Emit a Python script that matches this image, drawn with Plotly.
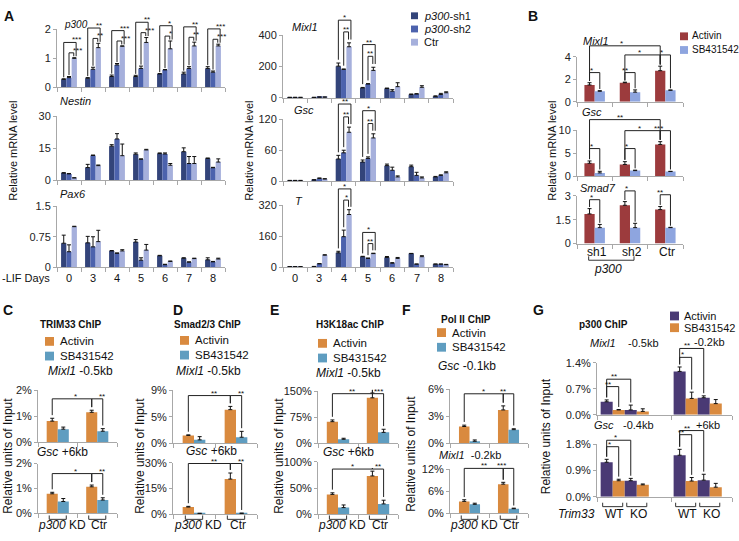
import plotly.graph_objects as go

W, H = 739, 541
FONT = "Liberation Sans, Arial, sans-serif"
AXC = "#a8a8a8"

# ===================== DATA =====================
# Panel A  (-LIF days)
days = ["0", "3", "4", "5", "6", "7", "8"]
p300_sh1 = [0.27, 0.31, 0.37, 0.37, 0.46, 0.46, 0.65]
p300_sh1_err = [0.02, 0.02, 0.05, 0.04, 0.01, 0.06, 0.06]
p300_sh2 = [0.33, 0.62, 0.77, 0.65, 0.60, 0.65, 0.52]
p300_sh2_err = [0.04, 0.07, 0.05, 0.08, 0.01, 0.06, 0.04]
p300_ctr = [1.00, 1.37, 1.42, 1.55, 1.33, 1.43, 1.43]
p300_ctr_err = [0.02, 0.15, 0.01, 0.17, 0.27, 0.13, 0.06]
p300_sig = [("***", "***"), ("**", "**"), ("***", "***"), ("**", "***"),
            ("*", "*"), ("**", "**"), ("***", "***")]

nes_sh1 = [3.3, 5.9, 16.0, 12.2, 12.5, 13.4, 10.2]
nes_sh1_err = [0.2, 1.5, 0.7, 0.6, 0.3, 1.8, 0.2]
nes_sh2 = [2.9, 11.6, 19.4, 9.8, 12.3, 7.8, 5.8]
nes_sh2_err = [0.2, 0.2, 2.5, 0.2, 0.5, 3.3, 0.2]
nes_ctr = [1.0, 6.8, 11.5, 14.2, 7.0, 7.8, 8.5]
nes_ctr_err = [0.1, 0.3, 5.5, 0.3, 0.8, 3.3, 1.5]

pax_sh1 = [0.59, 0.60, 0.40, 0.62, 0.28, 0.22, 0.18]
pax_sh1_err = [0.20, 0.16, 0.01, 0.06, 0.01, 0.01, 0.05]
pax_sh2 = [0.38, 0.50, 0.34, 0.17, 0.06, 0.12, 0.13]
pax_sh2_err = [0.17, 0.25, 0.01, 0.06, 0.01, 0.01, 0.01]
pax_ctr = [1.00, 0.63, 0.40, 0.42, 0.14, 0.21, 0.20]
pax_ctr_err = [0.01, 0.28, 0.03, 0.14, 0.01, 0.01, 0.02]

mix_sh1 = [3, 3, 203, 64, 60, 22, 10]
mix_sh1_err = [1, 1, 20, 3, 3, 3, 3]
mix_sh2 = [3, 5, 182, 89, 43, 25, 22]
mix_sh2_err = [1, 1, 3, 2, 10, 2, 7]
mix_ctr = [3, 5, 327, 176, 72, 68, 33]
mix_ctr_err = [1, 1, 25, 20, 25, 10, 6]
mix_sig = {2: ("*", "**"), 3: ("**", "**")}

gsc_sh1 = [1, 2, 43, 37, 30, 28, 8]
gsc_sh1_err = [0.3, 0.5, 7, 4, 3, 3, 1]
gsc_sh2 = [1, 5, 55, 44, 21, 11, 11]
gsc_sh2_err = [0.3, 1, 5, 3, 6, 6, 1]
gsc_ctr = [1, 4, 95, 84, 8, 6, 16]
gsc_ctr_err = [0.3, 0.5, 10, 8, 2, 2, 2]
gsc_sig = {2: ("**", "**"), 3: ("*", "**")}

t_sh1 = [2, 3, 74, 54, 50, 70, 15]
t_sh1_err = [0.5, 0.5, 8, 2, 5, 1, 1]
t_sh2 = [2, 17, 158, 45, 20, 15, 15]
t_sh2_err = [0.5, 1, 34, 2, 3, 1, 1]
t_ctr = [2, 62, 273, 70, 45, 54, 12]
t_ctr_err = [0.5, 2, 25, 2, 5, 5, 2]
t_sig = {2: ("*", "*"), 3: ("*", "**")}

# Panel B
b_groups = ["sh1", "sh2", "Ctr"]
b_mix_act = [1.50, 1.70, 2.77]
b_mix_act_err = [0.20, 0.05, 0.40]
b_mix_sb = [0.94, 0.86, 1.03]
b_mix_sb_err = [0.05, 0.20, 0.02]
b_gsc_act = [2.8, 2.55, 6.9]
b_gsc_act_err = [0.5, 0.6, 0.6]
b_gsc_sb = [0.7, 1.2, 1.0]
b_gsc_sb_err = [0.35, 0.1, 0.05]
b_smad_act = [1.86, 2.40, 2.13]
b_smad_act_err = [0.33, 0.23, 0.19]
b_smad_sb = [1.0, 1.0, 1.0]
b_smad_sb_err = [0.20, 0.27, 0.02]

# Panels C-F  (groups: p300 KD, Ctr)
cf_groups = ["<i>p300</i> KD", "Ctr"]
c_mix_act = [0.81, 1.15]; c_mix_act_err = [0.11, 0.08]
c_mix_sb = [0.50, 0.42]; c_mix_sb_err = [0.08, 0.10]
c_gsc_act = [0.79, 1.07]; c_gsc_act_err = [0.06, 0.07]
c_gsc_sb = [0.48, 0.54]; c_gsc_sb_err = [0.12, 0.09]

d_mix_act = [1.3, 5.7]; d_mix_act_err = [0.1, 0.55]
d_mix_sb = [0.55, 1.0]; d_mix_sb_err = [0.55, 1.0]
d_gsc_act = [4.3, 20.5]; d_gsc_act_err = [0.4, 3.5]
d_gsc_sb = [0.5, 0.6]; d_gsc_sb_err = [0.2, 0.2]

e_mix_act = [62, 131]; e_mix_act_err = [5, 14]
e_mix_sb = [11, 31]; e_mix_sb_err = [3, 9]
e_gsc_act = [38, 73]; e_gsc_act_err = [3, 9]
e_gsc_sb = [13, 20]; e_gsc_sb_err = [5, 7]

f_gsc_act = [1.85, 3.7]; f_gsc_act_err = [0.15, 0.45]
f_gsc_sb = [0.2, 1.5]; f_gsc_sb_err = [0.15, 0.1]
f_mix_act = [3.3, 8.0]; f_mix_act_err = [0.45, 0.5]
f_mix_sb = [2.5, 1.3]; f_mix_sb_err = [0.3, 0.15]

# Panel G (loci: left, right)
g_mix_wt_act = [0.35, 1.17]; g_mix_wt_act_err = [0.05, 0.12]
g_mix_wt_sb = [0.13, 0.44]; g_mix_wt_sb_err = [0.01, 0.17]
g_mix_ko_act = [0.13, 0.46]; g_mix_ko_act_err = [0.13, 0.05]
g_mix_ko_sb = [0.09, 0.30]; g_mix_ko_sb_err = [0.07, 0.11]
g_gsc_wt_act = [1.18, 1.42]; g_gsc_wt_act_err = [0.10, 0.20]
g_gsc_wt_sb = [0.55, 0.54]; g_gsc_wt_sb_err = [0.05, 0.12]
g_gsc_ko_act = [0.55, 0.57]; g_gsc_ko_act_err = [0.08, 0.20]
g_gsc_ko_sb = [0.41, 0.33]; g_gsc_ko_sb_err = [0.03, 0.13]

# ===================== COLOURS =====================
A_COL = ["#33447a", "#4c62ad", "#a6b0dc"]
B_COL = ["#9c3b3d", "#8ea5df"]
CF_COL = ["#d98a3f", "#5f9dc0"]
G_COL = ["#4a3a74", "#d98a3f"]

# ===================== HELPERS =====================
fig = go.Figure()
AX = {}
LAY = {}
shapes = []
annos = []
cnt = [0]


def add_axes(key, x0, x1, yt, yz, xr, yr, ytv, ytt, xtv):
    cnt[0] += 1
    n = cnt[0]
    sfx = "" if n == 1 else str(n)
    xa, ya = "x" + sfx, "y" + sfx
    AX[key] = dict(x0=x0, x1=x1, yt=yt, yz=yz, xr=xr, yr=yr, xa=xa, ya=ya)
    LAY["xaxis" + sfx] = dict(domain=[x0 / W, x1 / W], range=list(xr), anchor=ya,
                             showgrid=False, zeroline=False, showline=True,
                             linecolor=AXC, linewidth=1, ticks="outside", ticklen=4,
                             tickcolor=AXC, tickvals=xtv, showticklabels=False,
                             fixedrange=True)
    LAY["yaxis" + sfx] = dict(domain=[1 - yz / H, 1 - yt / H], range=list(yr), anchor=xa,
                             showgrid=False, zeroline=False, showline=True,
                             linecolor=AXC, linewidth=1, ticks="outside", ticklen=3,
                             tickcolor=AXC, tickvals=ytv, ticktext=ytt,
                             tickfont=dict(size=11, color="#222", family=FONT),
                             fixedrange=True)


def PX(key, v):
    a = AX[key]
    return (a["x0"] + (v - a["xr"][0]) / (a["xr"][1] - a["xr"][0]) * (a["x1"] - a["x0"])) / W


def PY(key, v):
    a = AX[key]
    return 1 - (a["yz"] - (v - a["yr"][0]) / (a["yr"][1] - a["yr"][0]) * (a["yz"] - a["yt"])) / H


def center(pos, i, n, w):
    return pos - n * w / 2 + (i + 0.5) * w


def add_bars(key, pos, vals, errs, color, i, n, w, capw=2):
    a = AX[key]
    fig.add_trace(go.Bar(
        x=pos, y=vals, width=w, offset=-n * w / 2 + i * w,
        marker=dict(color=color, line=dict(width=0)),
        error_y=dict(type="data", array=errs, arrayminus=[0] * len(errs), symmetric=False,
                     color="#111", thickness=1, width=capw),
        xaxis=a["xa"], yaxis=a["ya"], showlegend=False, hoverinfo="skip"))


def bracket(key, xa, xb, h, la, lb, label, fs=8):
    pxa, pxb, ph = PX(key, xa), PX(key, xb), PY(key, h)
    path = f"M {pxa},{PY(key, la)} L {pxa},{ph} L {pxb},{ph} L {pxb},{PY(key, lb)}"
    shapes.append(dict(type="path", path=path, xref="paper", yref="paper",
                       line=dict(color="#222", width=1)))
    annos.append(dict(x=(pxa + pxb) / 2, y=ph, xref="paper", yref="paper", text=label,
                      showarrow=False, font=dict(size=fs, color="#111", family=FONT),
                      yanchor="bottom", yshift=-4))


def txt(x, y, s, size=11, xanchor="center", angle=0, color="#111"):
    annos.append(dict(x=x / W, y=1 - y / H, xref="paper", yref="paper", text=s,
                      showarrow=False, font=dict(size=size, color=color, family=FONT),
                      xanchor=xanchor, yanchor="middle", textangle=angle))


def square(x, y, s, color):
    shapes.append(dict(type="rect", x0=x / W, x1=(x + s) / W, y0=1 - (y + s / 2) / H,
                       y1=1 - (y - s / 2) / H, xref="paper", yref="paper",
                       fillcolor=color, line=dict(width=0)))


def under_bracket(x0, x1, y):
    path = f"M {x0 / W},{1 - (y - 4) / H} L {x0 / W},{1 - y / H} L {x1 / W},{1 - y / H} L {x1 / W},{1 - (y - 4) / H}"
    shapes.append(dict(type="path", path=path, xref="paper", yref="paper",
                       line=dict(color="#333", width=1)))


# ===================== PANEL A =====================
nA = len(days)
posA = list(range(nA))
bndA = [k - 0.5 for k in range(nA + 1)]
wA = 0.22
A_specs = [
    ("a1", 57, 225, 24, 83, 2, [0, 1, 2], ["0", "1", "2"],
     [(p300_sh1, p300_sh1_err), (p300_sh2, p300_sh2_err), (p300_ctr, p300_ctr_err)]),
    ("a2", 57, 225, 113, 178, 30, [0, 15, 30], ["0", "15", "30"],
     [(nes_sh1, nes_sh1_err), (nes_sh2, nes_sh2_err), (nes_ctr, nes_ctr_err)]),
    ("a3", 57, 225, 205, 267, 1.5, [0, 0.75, 1.5], ["0", "0.75", "1.5"],
     [(pax_sh1, pax_sh1_err), (pax_sh2, pax_sh2_err), (pax_ctr, pax_ctr_err)]),
    ("a4", 283, 453, 30, 94, 400, [0, 200, 400], ["0", "200", "400"],
     [(mix_sh1, mix_sh1_err), (mix_sh2, mix_sh2_err), (mix_ctr, mix_ctr_err)]),
    ("a5", 283, 453, 116, 179, 120, [0, 60, 120], ["0", "60", "120"],
     [(gsc_sh1, gsc_sh1_err), (gsc_sh2, gsc_sh2_err), (gsc_ctr, gsc_ctr_err)]),
    ("a6", 283, 453, 204, 267, 320, [0, 160, 320], ["0", "160", "320"],
     [(t_sh1, t_sh1_err), (t_sh2, t_sh2_err), (t_ctr, t_ctr_err)]),
]
for key, x0, x1, yt, yz, top, tv, tt, ser in A_specs:
    add_axes(key, x0, x1, yt, yz, (-0.5, nA - 0.5), (0, top), tv, tt, bndA)
    for i, (v, e) in enumerate(ser):
        add_bars(key, posA, v, e, A_COL[i], i, 3, wA)


def a_brackets(key, ser, sigs, pad, step):
    (s1, e1), (s2, e2), (c, ec) = ser
    for g, (lo, li) in sigs.items():
        ctop = c[g] + ec[g]
        hi = max(ctop, s2[g] + e2[g]) + pad
        ho = hi + step
        lp = pad * 0.3
        bracket(key, center(g, 1, 3, wA), center(g, 2, 3, wA) - 0.1 * wA, hi,
                s2[g] + e2[g] + lp, ctop + lp, li)
        bracket(key, center(g, 0, 3, wA), center(g, 2, 3, wA) + 0.35 * wA, ho,
                s1[g] + e1[g] + lp, ctop + lp, lo)


a_brackets("a1", A_specs[0][8], dict(enumerate(p300_sig)), 0.17, 0.36)
a_brackets("a4", A_specs[3][8], mix_sig, 70, 75)
a_brackets("a5", A_specs[4][8], gsc_sig, 20, 25)
a_brackets("a6", A_specs[5][8], t_sig, 50, 58)

for k in posA:
    txt(PX("a3", k) * W, 278, days[k], 11)
    txt(PX("a6", k) * W, 278, days[k], 11)
txt(52, 278, "-LIF Days", 11, xanchor="right")
txt(62, 19, "<i>p300</i>", 10, xanchor="left")
txt(58, 97, "<i>Nestin</i>", 11, xanchor="left")
txt(58, 192, "<i>Pax6</i>", 11, xanchor="left")
txt(290, 21, "<i>Mixl1</i>", 11, xanchor="left")
txt(292, 106, "<i>Gsc</i>", 11, xanchor="left")
txt(293, 199, "<i>T</i>", 11, xanchor="left")
txt(13, 148, "Relative mRNA level", 11, angle=-90)
txt(249, 148, "Relative mRNA level", 11, angle=-90)
a_leg = ["<i>p300</i>-sh1", "<i>p300</i>-sh2", "Ctr"]
for i, name in enumerate(a_leg):
    square(411, 10 + 13.5 * i, 7, A_COL[i])
    txt(422, 10 + 13.5 * i, name, 11, xanchor="left")

# ===================== PANEL B =====================
nB = len(b_groups)
posB = list(range(nB))
bndB = [k - 0.5 for k in range(nB + 1)]
wB = 0.29
B_specs = [
    ("b1", 52, 98, 4, [0, 2, 4], ["0", "2", "4"],
     [(b_mix_act, b_mix_act_err), (b_mix_sb, b_mix_sb_err)]),
    ("b2", 127, 174, 10, [0, 5, 10], ["0", "5", "10"],
     [(b_gsc_act, b_gsc_act_err), (b_gsc_sb, b_gsc_sb_err)]),
    ("b3", 194, 243, 3, [0, 1.5, 3], ["0", "1.5", "3"],
     [(b_smad_act, b_smad_act_err), (b_smad_sb, b_smad_sb_err)]),
]
for key, yt, yz, top, tv, tt, ser in B_specs:
    add_axes(key, 577, 683, yt, yz, (-0.5, nB - 0.5), (0, top), tv, tt, bndB)
    for i, (v, e) in enumerate(ser):
        add_bars(key, posB, v, e, B_COL[i], i, 2, wB)


def top_of(ser, g, i):
    v, e = ser[i]
    return v[g] + e[g]


def b_br(key, ser, ga, ia, gb, ib, h, label, lp):
    bracket(key, center(ga, ia, 2, wB), center(gb, ib, 2, wB), h,
            top_of(ser, ga, ia) + lp, top_of(ser, gb, ib) + lp, label)


s = B_specs[0][6]
b_br("b1", s, 0, 0, 0, 1, 2.6, "*", 0.15)
b_br("b1", s, 1, 0, 1, 1, 2.6, "**", 0.15)
b_br("b1", s, 2, 0, 2, 1, 4.17, "*", 0.15)
b_br("b1", s, 1, 0, 2, 0, 4.17, "*", 0.15)
b_br("b1", s, 0, 0, 2, 0, 4.98, "*", 0.15)
s = B_specs[1][6]
b_br("b2", s, 0, 0, 0, 1, 6.0, "*", 0.4)
b_br("b2", s, 1, 0, 1, 1, 6.0, "*", 0.4)
b_br("b2", s, 2, 0, 2, 1, 9.9, "***", 0.4)
b_br("b2", s, 1, 0, 2, 0, 9.9, "*", 0.4)
b_br("b2", s, 0, 0, 2, 0, 12.3, "**", 0.4)
s = B_specs[2][6]
b_br("b3", s, 0, 0, 0, 1, 2.75, "*", 0.1)
b_br("b3", s, 1, 0, 1, 1, 3.3, "*", 0.1)
b_br("b3", s, 2, 0, 2, 1, 3.06, "**", 0.1)

for k in posB:
    txt(PX("b3", k) * W + 2, 252, b_groups[k], 12)
under_bracket(PX("b3", 0) * W - 6, PX("b3", 1) * W + 4, 260)
txt(608, 269, "<i>p300</i>", 12)
txt(581, 36, "<i>Mixl1</i>", 11, xanchor="left")
txt(580, 108, "<i>Gsc</i>", 11, xanchor="left")
txt(578, 186, "<i>Smad7</i>", 11, xanchor="left")
txt(552, 148, "Relative mRNA level", 11, angle=-90)
for i, name in enumerate(["Activin", "SB431542"]):
    square(680, 31 + 14 * i, 8, B_COL[i])
    txt(690, 30 + 14 * i, name, 10, xanchor="left")

# ===================== PANELS C-F =====================
posCF = [0, 1]
bndCF = [-0.5, 0.5, 1.5]
CF_specs = [
    ("c", 38, 117, 0.28,
     (393, 446, 2, [0, 1, 2], ["0%", "1%", "2%"],
      [(c_mix_act, c_mix_act_err), (c_mix_sb, c_mix_sb_err)], 1.67, ("*", "**")),
     (468, 519, 2, [0, 1, 2], ["0%", "1%", "2%"],
      [(c_gsc_act, c_gsc_act_err), (c_gsc_sb, c_gsc_sb_err)], 1.6, ("*", "**"))),
    ("d", 173, 257, 0.27,
     (393, 447, 9, [0, 4.5, 9], ["0%", "5%", "9%"],
      [(d_mix_act, d_mix_act_err), (d_mix_sb, d_mix_sb_err)], 8.1, ("**", "**")),
     (467, 520, 30, [0, 15, 30], ["0%", "15%", "30%"],
      [(d_gsc_act, d_gsc_act_err), (d_gsc_sb, d_gsc_sb_err)], 29.5, ("**", "**"))),
    ("e", 318, 398, 0.28,
     (394, 447, 150, [0, 75, 150], ["0%", "75%", "150%"],
      [(e_mix_act, e_mix_act_err), (e_mix_sb, e_mix_sb_err)], 143, ("**", "***")),
     (466, 520, 100, [0, 50, 100], ["0%", "50%", "100%"],
      [(e_gsc_act, e_gsc_act_err), (e_gsc_sb, e_gsc_sb_err)], 86, ("*", "**"))),
    ("f", 450, 528, 0.27,
     (392, 447, 6, [0, 3, 6], ["0%", "3%", "6%"],
      [(f_gsc_act, f_gsc_act_err), (f_gsc_sb, f_gsc_sb_err)], 5.5, ("*", "**")),
     (474, 519, 12, [0, 6, 12], ["0%", "6%", "12%"],
      [(f_mix_act, f_mix_act_err), (f_mix_sb, f_mix_sb_err)], 12.3, ("**", "***"))),
]
for p, x0, x1, w, top_spec, bot_spec in CF_specs:
    for j, (yt, yz, top, tv, tt, ser, lvl, labs) in enumerate([top_spec, bot_spec]):
        key = p + str(j + 1)
        add_axes(key, x0, x1, yt, yz, (-0.5, 1.5), (0, top), tv, tt, bndCF)
        for i, (v, e) in enumerate(ser):
            add_bars(key, posCF, v, e, CF_COL[i], i, 2, w)
        lp = top * 0.06
        bracket(key, center(0, 0, 2, w), center(1, 0, 2, w), lvl,
                top_of(ser, 0, 0) + lp, top_of(ser, 1, 0) + lp, labs[0])
        bracket(key, center(1, 0, 2, w), center(1, 1, 2, w), lvl,
                top_of(ser, 1, 0) + lp, top_of(ser, 1, 1) + lp, labs[1])
    for k in posCF:
        cx0 = PX(p + "2", center(k, 0, 2, w)) * W
        cx1 = PX(p + "2", center(k, 1, 2, w)) * W
        under_bracket(cx0 - 3, cx1 + 3, 525)
        txt((cx0 + cx1) / 2 + (4 if k == 0 else 2), 531, cf_groups[k], 12)

# C
txt(70, 326, "<b>TRIM33 ChIP</b>", 10)
txt(62, 456, "<i>Gsc</i> +6kb", 12)
txt(80, 373, "<i>Mixl1</i> -0.5kb", 12)
txt(8, 460, "Relative units of Input", 12, angle=-90)
# D
txt(207, 326, "<b>Smad2/3 ChIP</b>", 10)
txt(208, 373, "<i>Mixl1</i> -0.5kb", 12)
txt(212, 455, "<i>Gsc</i> +6kb", 12)
txt(140, 460, "Relative units of Input", 12, angle=-90)
# E
txt(350, 326, "<b>H3K18ac ChIP</b>", 10)
txt(348, 375, "<i>Mixl1</i> -0.5kb", 12)
txt(348, 456, "<i>Gsc</i> +6kb", 12)
txt(279, 460, "Relative units of Input", 12, angle=-90)
# F
txt(466, 321, "<b>Pol II ChIP</b>", 10)
txt(467, 368, "<i>Gsc</i> -0.1kb", 12)
txt(470, 459, "<i>Mixl1</i>  -0.2kb", 11)
txt(411, 458, "Relative units of Input", 12, angle=-90)
for lx, ly in [(45, 343), (180, 342), (318, 345), (437, 334)]:
    for i, name in enumerate(["Activin", "SB431542"]):
        square(lx, ly + 15 * i, 9, CF_COL[i])
        txt(lx + 13, ly + 15 * i, name, 11.5, xanchor="left")

# ===================== PANEL G =====================
posG = [0, 1]
wG = 0.165
xrG = (-0.38, 1.47)
G_specs = [
    ("g1", 365, 418, 1.4, [0, 0.7, 1.4], ["0.0%", "0.7%", "1.4%"],
     [(g_mix_wt_act, g_mix_wt_act_err), (g_mix_wt_sb, g_mix_wt_sb_err),
      (g_mix_ko_act, g_mix_ko_act_err), (g_mix_ko_sb, g_mix_ko_sb_err)],
     [(0.76, "**", 0.96, "**"), (1.55, "*", 1.79, "**")]),
    ("g2", 448, 502, 1.8, [0, 0.9, 1.8], ["0.0%", "0.9%", "1.8%"],
     [(g_gsc_wt_act, g_gsc_wt_act_err), (g_gsc_wt_sb, g_gsc_wt_sb_err),
      (g_gsc_ko_act, g_gsc_ko_act_err), (g_gsc_ko_sb, g_gsc_ko_sb_err)],
     [(1.71, "*", 1.93, "*"), (2.12, "**", 2.26, "**")]),
]
for key, yt, yz, top, tv, tt, ser, brs in G_specs:
    add_axes(key, 597, 732, yt, yz, xrG, (0, top), tv, tt, [xrG[0], 0.64, xrG[1]])
    for i, (v, e) in enumerate(ser):
        add_bars(key, posG, v, e, G_COL[i % 2], i, 4, wG)
    lp = top * 0.05
    for g, (h1, l1, h2, l2) in zip(posG, brs):
        bracket(key, center(g, 0, 4, wG), center(g, 1, 4, wG), h1,
                top_of(ser, g, 0) + lp, top_of(ser, g, 1) + lp, l1)
        bracket(key, center(g, 0, 4, wG), center(g, 2, 4, wG), h2,
                top_of(ser, g, 0) + lp, top_of(ser, g, 2) + lp, l2)
for g in posG:
    for j, lab in enumerate(["WT", "KO"]):
        cx0 = PX("g2", center(g, 2 * j, 4, wG)) * W
        cx1 = PX("g2", center(g, 2 * j + 1, 4, wG)) * W
        under_bracket(cx0 - 4, cx1 + 4, 512)
        txt((cx0 + cx1) / 2 + 2, 520, lab, 12)
txt(576, 520, "<i>Trim33</i>", 12)
txt(603, 326, "<b>p300 ChIP</b>", 10)
txt(603, 345, "<i>Mixl1</i>", 11)
txt(643, 345, "-0.5kb", 11)
txt(709, 344, "-0.2kb", 11)
txt(604, 428, "<i>Gsc</i>", 11)
txt(638, 428, "-0.4kb", 11)
txt(708, 428, "+6kb", 11)
txt(546, 440, "Relative units of Input", 12, angle=-90)
for i, name in enumerate(["Activin", "SB431542"]):
    square(670, 317 + 12 * i, 9, G_COL[i])
    txt(682, 317 + 12 * i, name, 11, xanchor="left")

# ===================== PANEL LETTERS =====================
for letter, x, y in [("A", 9, 10), ("B", 533, 10), ("C", 8, 311), ("D", 178, 311),
                     ("E", 274, 311), ("F", 407, 311), ("G", 538, 311)]:
    txt(x, y, f"<b>{letter}</b>", 14)

fig.update_layout(
    width=W, height=H, margin=dict(l=0, r=0, t=0, b=0),
    paper_bgcolor="white", plot_bgcolor="white",
    barmode="overlay", showlegend=False,
    font=dict(family=FONT, size=11, color="#111"),
    shapes=shapes, annotations=annos, **LAY)
fig.write_html("out.html", config={"displayModeBar": False},
               post_script="document.body.style.margin='0px';")
